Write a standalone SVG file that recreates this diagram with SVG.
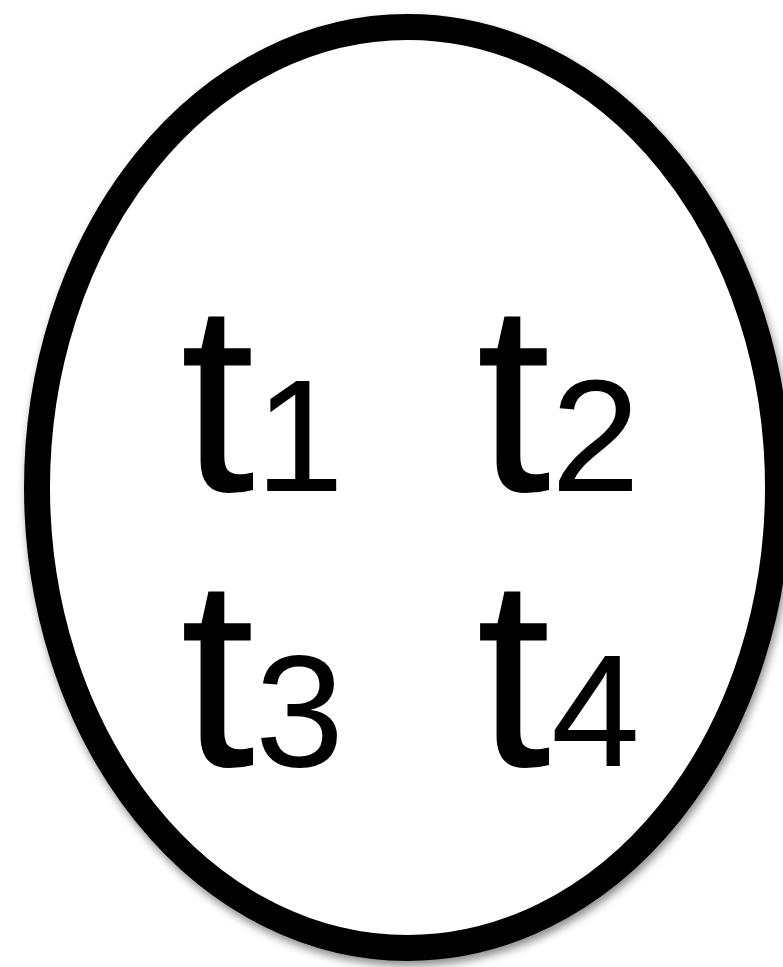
<svg xmlns="http://www.w3.org/2000/svg" width="783" height="967" viewBox="0 0 783 967">
<defs>
<filter id="sh" x="-10%" y="-10%" width="120%" height="120%">
<feDropShadow dx="2" dy="5" stdDeviation="4" flood-color="#000" flood-opacity="0.45"/>
</filter>
</defs>
<style>
.lbl{font-family:"Liberation Sans",Arial,sans-serif;font-size:270px;fill:#000}
.sub{font-size:160px}
</style>
<rect width="783" height="967" fill="#fff"/>
<g id="set">
<ellipse cx="407.5" cy="487.5" rx="370.5" ry="460.5" fill="#fff" stroke="#000" stroke-width="26" filter="url(#sh)"/>
<text class="lbl" x="180" y="491">t<tspan class="sub">1</tspan></text>
<text class="lbl" x="476" y="491">t<tspan class="sub">2</tspan></text>
<text class="lbl" x="180" y="766">t<tspan class="sub">3</tspan></text>
<text class="lbl" x="476" y="766">t<tspan class="sub">4</tspan></text>
</g>
<g id="connectors"/>
</svg>
